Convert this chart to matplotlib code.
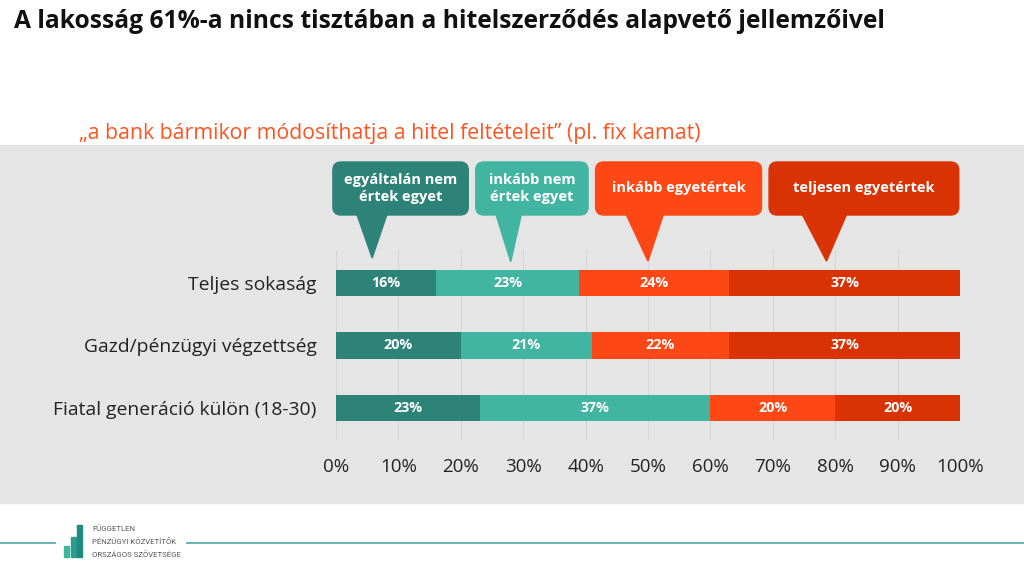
import matplotlib.pyplot as plt
import numpy as np
from matplotlib.patches import FancyBboxPatch, Polygon, Rectangle
from matplotlib.lines import Line2D

plt.rcParams['font.family'] = ['Open Sans', 'DejaVu Sans']

# data
groups = ['Teljes sokaság', 'Gazd/pénzügyi végzettség', 'Fiatal generáció külön (18-30)']
answers = ['egyáltalán nem\nértek egyet', 'inkább nem\nértek egyet',
           'inkább egyetértek', 'teljesen egyetértek']
values = [
    [16, 20, 23],   # egyáltalán nem
    [23, 21, 37],   # inkább nem
    [24, 22, 20],   # inkább egyetértek
    [37, 37, 20],   # teljesen egyetértek
]
colors = ['#2e8379', '#41b5a2', '#fd4816', '#d93205']

# callout boxes: (left, right, tip x, base left, base right) in percent
callouts = [
    (-0.5, 21.2, 5.8, 3.2, 8.3),
    (22.4, 40.4, 28.0, 25.5, 29.8),
    (41.6, 68.2, 50.0, 46.3, 52.6),
    (69.4, 99.8, 78.6, 74.5, 82.0),
]
tip_y = [-0.40, -0.34, -0.35, -0.35]

title = 'A lakosság 61%-a nincs tisztában a hitelszerződés alapvető jellemzőivel'
subtitle = '\u201ea bank bármikor módosíthatja a hitel feltételeit\u201d (pl. fix kamat)'

W, H = 1024, 576
fig = plt.figure(figsize=(W / 100, H / 100), dpi=100)
fig.patch.set_facecolor('white')

# grey band
fig.patches.append(Rectangle((0, 1 - 503 / H), 1, (503 - 145) / H,
                             transform=fig.transFigure, color='#e5e5e5', zorder=-10))

ax = fig.add_axes([336 / W, 1 - 440 / H, 624 / W, 190 / H])
ax.set_facecolor('none')
ax.set_zorder(2)

y = np.arange(len(groups))
left = np.zeros(len(groups))
for vals, c in zip(values, colors):
    vals = np.array(vals)
    ax.barh(y, vals, left=left, height=0.42, color=c, zorder=3)
    for yi, l, v in zip(y, left, vals):
        ax.text(l + v / 2, yi, f'{v}%', ha='center', va='center', color='white',
                fontsize=10.3, fontweight='bold', zorder=4)
    left += vals

ax.set_xlim(0, 100)
ax.set_ylim(2.512, -0.528)
ax.set_xticks(np.arange(0, 101, 10))
ax.set_xticklabels([f'{t}%' for t in range(0, 101, 10)], fontsize=13.5, color='#222222')
ax.set_yticks(y)
ax.set_yticklabels(groups, fontsize=13.9, color='#222222')
ax.tick_params(length=0)
ax.tick_params(axis='y', pad=14)
ax.tick_params(axis='x', pad=13)
ax.grid(axis='x', color='#d6d6d6', linewidth=0.8, zorder=0)
for s in ax.spines.values():
    s.set_visible(False)

# callouts
box_top, box_bot = -1.936, -1.088
aspect = (1 / 62.5) / (100 / 624)
for (x0, x1, tx, b0, b1), ty, c, lab in zip(callouts, tip_y, colors, answers):
    box = FancyBboxPatch((x0, box_top), x1 - x0, box_bot - box_top,
                         boxstyle='round,pad=0,rounding_size=1.3',
                         mutation_aspect=aspect, color=c, clip_on=False, zorder=5)
    ax.add_patch(box)
    tri = Polygon([(b0, box_bot - 0.05), (b1, box_bot - 0.05), (tx, ty)],
                  closed=True, color=c, clip_on=False, zorder=5)
    ax.add_patch(tri)
    ax.text((x0 + x1) / 2, (box_top + box_bot) / 2, lab, ha='center', va='center',
            color='white', fontsize=10.5, fontweight='bold', linespacing=1.2,
            zorder=6, clip_on=False)

# titles
fig.text(14 / W, 1 - 21 / H, title, fontsize=17.7, fontweight='bold', color='#111111',
         va='center', ha='left')
fig.text(79 / W, 1 - 133 / H, subtitle, fontsize=15.3, color='#fd5522',
         va='center', ha='left')

# footer
teal = '#4aa9a9'
fig.lines.append(Line2D([0, 55 / W], [1 - 543 / H] * 2, transform=fig.transFigure,
                        color=teal, linewidth=1.2))
fig.lines.append(Line2D([187 / W, 1], [1 - 543 / H] * 2, transform=fig.transFigure,
                        color=teal, linewidth=1.2))
for bx, btop, bc in [(64, 546, '#3fb5a0'), (70.5, 537, '#2a9d8f'), (77, 525, '#1f8a80')]:
    fig.patches.append(Rectangle((bx / W, 1 - 557 / H), 5.2 / W, (557 - btop) / H,
                                 transform=fig.transFigure, color=bc))
for i, line in enumerate(['FÜGGETLEN', 'PÉNZÜGYI KÖZVETÍTŐK', 'ORSZÁGOS SZÖVETSÉGE']):
    fig.text(92 / W, 1 - (529 + i * 13) / H, line, fontsize=5.6, color='#555555',
             va='center', ha='left', family=['Roboto', 'DejaVu Sans'])

fig.savefig('out.png', dpi=100)
